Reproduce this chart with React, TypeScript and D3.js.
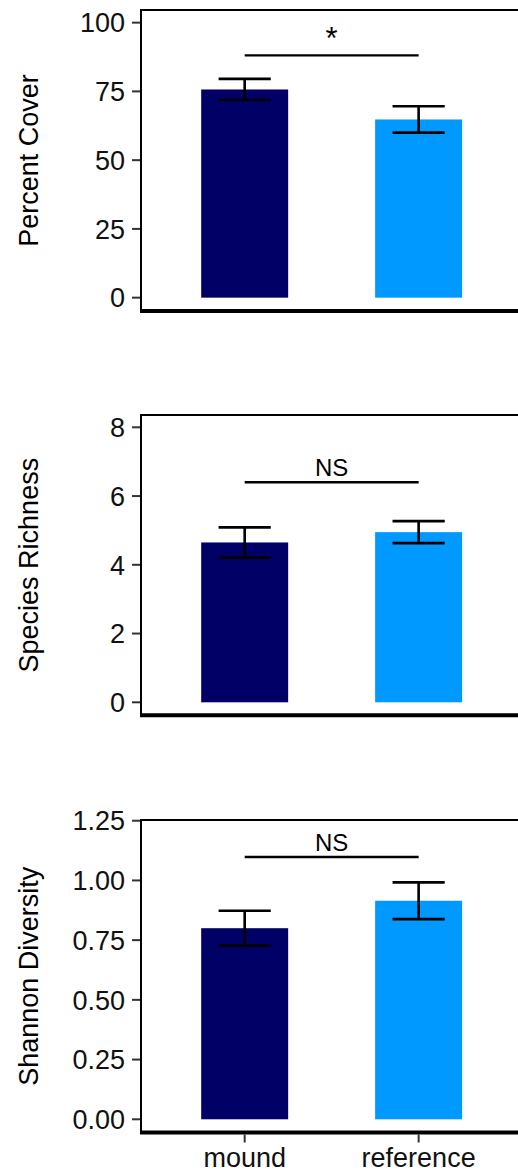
import React from "react";
import * as d3 from "d3";

// Groups compared in every panel
const categories = ["mound", "reference"];
const barColors = ["#000066", "#0099FF"];

// Percent cover (mean ± SE)
const coverMean = [75.7, 64.8];
const coverSE = [3.85, 4.8];
const coverTicks = [0, 25, 50, 75, 100];

// Species richness (mean ± SE)
const richnessMean = [4.65, 4.95];
const richnessSE = [0.44, 0.32];
const richnessTicks = [0, 2, 4, 6, 8];

// Shannon diversity (mean ± SE)
const shannonMean = [0.8, 0.915];
const shannonSE = [0.073, 0.077];
const shannonTicks = [0, 0.25, 0.5, 0.75, 1.0, 1.25];

// Significance brackets
const sigLabels = ["*", "NS", "NS"];
const sigHeights = [88.1, 6.4, 1.098];

const W = 518;
const H = 1176;
const FONT = "'Liberation Sans', Arial, Helvetica, sans-serif";
const axisX = 141;

type Panel = {
  title: string;
  mean: number[];
  se: number[];
  ticks: number[];
  fmt: (v: number) => string;
  sig: string;
  sigY: number;
  domain: [number, number];
  top: number;
  bottom: number;
};

const panels: Panel[] = [
  {
    title: "Percent Cover",
    mean: coverMean,
    se: coverSE,
    ticks: coverTicks,
    fmt: (v) => String(v),
    sig: sigLabels[0],
    sigY: sigHeights[0],
    domain: [-4.85, 104.6],
    top: 10,
    bottom: 311,
  },
  {
    title: "Species Richness",
    mean: richnessMean,
    se: richnessSE,
    ticks: richnessTicks,
    fmt: (v) => String(v),
    sig: sigLabels[1],
    sigY: sigHeights[1],
    domain: [-0.378, 8.358],
    top: 415,
    bottom: 715.3,
  },
  {
    title: "Shannon Diversity",
    mean: shannonMean,
    se: shannonSE,
    ticks: shannonTicks,
    fmt: d3.format(".2f"),
    sig: sigLabels[2],
    sigY: sigHeights[2],
    domain: [-0.0553, 1.253],
    top: 820,
    bottom: 1132.5,
  },
];

export default function App() {
  const x = d3
    .scalePoint<string>()
    .domain(categories)
    .range([140.3, 523])
    .padding(0.6);
  const step = x.step();
  const barW = step * 0.5;
  const capW = step * 0.3;

  return (
    <svg
      width={W}
      height={H}
      style={{ position: "absolute", left: 0, top: 0, background: "#fff" }}
      fontFamily={FONT}
    >
      {panels.map((p, pi) => {
        const y = d3.scaleLinear().domain(p.domain).range([p.bottom, p.top]);
        const midY = (p.top + p.bottom) / 2;
        const x0 = x(categories[0])!;
        const x1 = x(categories[1])!;
        const isLast = pi === panels.length - 1;
        const sigPx = y(p.sigY);
        return (
          <g key={p.title}>
            {/* bars */}
            {categories.map((c, i) => (
              <rect
                key={c}
                x={x(c)! - barW / 2}
                y={y(p.mean[i])}
                width={barW}
                height={y(0) - y(p.mean[i])}
                fill={barColors[i]}
              />
            ))}
            {/* error bars */}
            {categories.map((c, i) => {
              const cx = x(c)!;
              const hi = y(p.mean[i] + p.se[i]);
              const lo = y(p.mean[i] - p.se[i]);
              return (
                <g key={c} stroke="#000" strokeWidth={2.6} fill="none">
                  <line x1={cx} x2={cx} y1={hi} y2={lo} />
                  <line x1={cx - capW / 2} x2={cx + capW / 2} y1={hi} y2={hi} />
                  <line x1={cx - capW / 2} x2={cx + capW / 2} y1={lo} y2={lo} />
                </g>
              );
            })}
            {/* significance bracket */}
            <line x1={x0} x2={x1} y1={sigPx} y2={sigPx} stroke="#000" strokeWidth={2.4} />
            <text
              x={(x0 + x1) / 2}
              y={sigPx - 6}
              textAnchor="middle"
              fontSize={p.sig === "*" ? 31 : 24}
              fill="#000"
            >
              {p.sig}
            </text>
            {/* panel frame */}
            <line x1={axisX - 1} x2={W} y1={p.top} y2={p.top} stroke="#000" strokeWidth={2} />
            <line x1={axisX} x2={axisX} y1={p.top} y2={p.bottom} stroke="#000" strokeWidth={2} />
            <line x1={axisX - 1} x2={W} y1={p.bottom} y2={p.bottom} stroke="#000" strokeWidth={4} />
            {/* y axis ticks and labels */}
            {p.ticks.map((t) => (
              <g key={t}>
                <line x1={132} x2={axisX - 1} y1={y(t)} y2={y(t)} stroke="#333" strokeWidth={2} />
                <text
                  x={125}
                  y={y(t)}
                  dy="0.36em"
                  textAnchor="end"
                  fontSize={27}
                  fill="#111"
                >
                  {p.fmt(t)}
                </text>
              </g>
            ))}
            {/* y axis title */}
            <text
              transform={`translate(38,${midY}) rotate(-90)`}
              textAnchor="middle"
              fontSize={27}
              fill="#000"
            >
              {p.title}
            </text>
            {/* x axis on the bottom panel */}
            {isLast &&
              categories.map((c) => (
                <g key={c}>
                  <line
                    x1={x(c)!}
                    x2={x(c)!}
                    y1={p.bottom + 2}
                    y2={p.bottom + 10}
                    stroke="#333"
                    strokeWidth={2}
                  />
                  <text
                    x={x(c)!}
                    y={1166.5}
                    textAnchor="middle"
                    fontSize={27}
                    fill="#111"
                  >
                    {c}
                  </text>
                </g>
              ))}
          </g>
        );
      })}
    </svg>
  );
}
